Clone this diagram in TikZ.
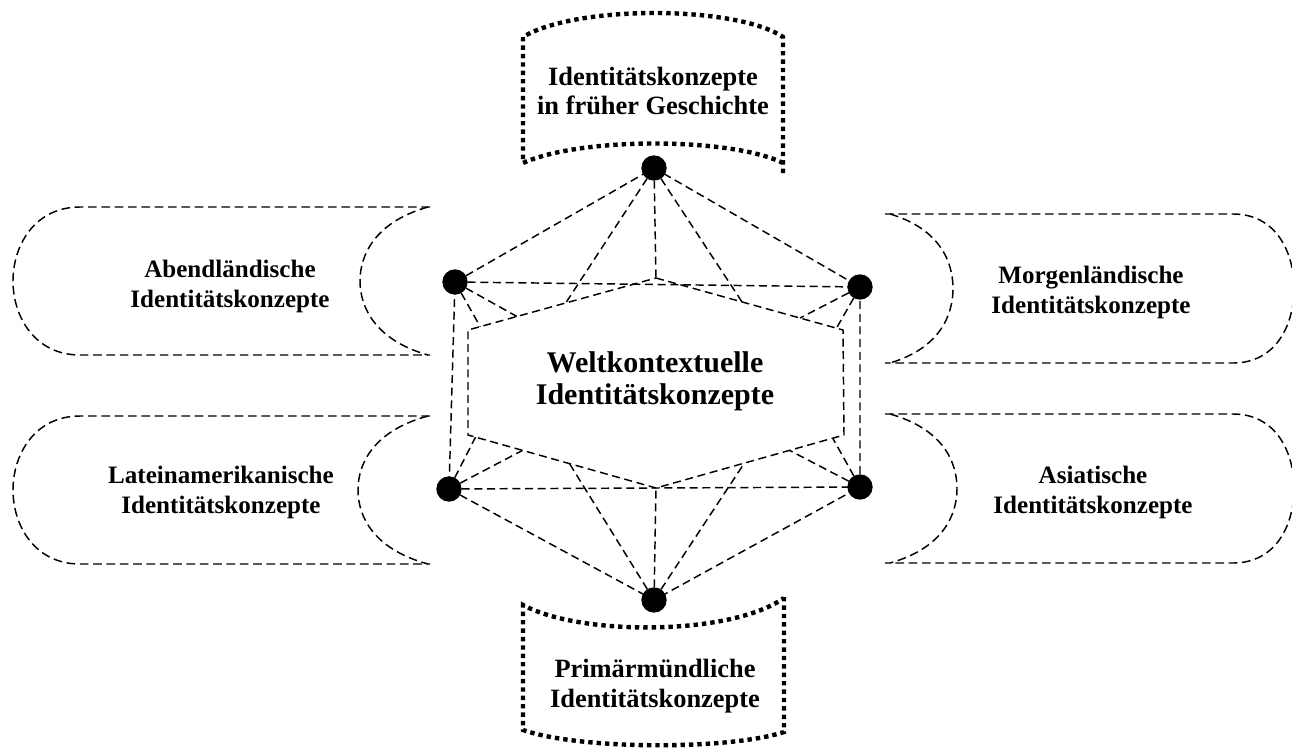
\documentclass[tikz,border=0pt]{standalone}
\usepackage{fontspec}
\setmainfont{Liberation Serif}
\usetikzlibrary{calc}
\begin{document}
\begin{tikzpicture}[x=0.75pt,y=-0.75pt,
  link/.style={line width=1.1pt, dash pattern=on 6pt off 3.5pt},
  rim/.style={line width=1.1pt, dash pattern=on 6.5pt off 3.5pt},
  banner/.style={line width=3.3pt, dash pattern=on 3.3pt off 3pt},
  vertex/.style={circle, fill=black, inner sep=0pt, minimum size=19pt},
  ctext/.style={align=center, inner sep=0pt,
    font=\bfseries\fontsize{18.8}{22.5}\selectfont},
  btext/.style={align=center, inner sep=0pt,
    font=\bfseries\fontsize{19.8}{22}\selectfont},
  mtext/.style={align=center, inner sep=0pt,
    font=\bfseries\fontsize{22.5}{24}\selectfont}]
\useasboundingbox (0,0) rectangle (1292,753);

% top and bottom banners
\draw[banner] (783,173) -- (783,37) .. controls (735,5) and (575,5) .. (523,37)
  -- (523,163) .. controls (580,137) and (730,137) .. (783,163);
\draw[banner] (784,597) -- (784,732) .. controls (730,750) and (580,750) .. (523,730)
  -- (523,605) .. controls (580,636) and (730,636) .. (784,598);

% side tabs, left
\draw[rim] (430,207) -- (80,207) .. controls (35,207) and (13,245) .. (13,281)
  .. controls (13,317) and (35,355) .. (80,355) -- (430,355);
\draw[rim] (428,207) .. controls (375,222) and (360,255) .. (360,281)
  .. controls (360,307) and (375,340) .. (428,355);
\draw[rim] (430,416) -- (80,416) .. controls (35,416) and (13,454) .. (13,490)
  .. controls (13,526) and (35,564) .. (80,564) -- (430,564);
\draw[rim] (428,416) .. controls (373,431) and (358,464) .. (358,490)
  .. controls (358,516) and (373,549) .. (428,564);

% side tabs, right
\draw[rim] (885,214) -- (1233,214) .. controls (1276,214) and (1294,252) .. (1294,288.5)
  .. controls (1294,325) and (1276,363) .. (1233,363) -- (885,363);
\draw[rim] (890,214) .. controls (940,229) and (953,262) .. (953,288.5)
  .. controls (953,315) and (940,348) .. (890,363);
\draw[rim] (885,414) -- (1233,414) .. controls (1276,414) and (1294,452) .. (1294,488.5)
  .. controls (1294,525) and (1276,563) .. (1233,563) -- (885,563);
\draw[rim] (890,414) .. controls (943,429) and (957,462) .. (957,488.5)
  .. controls (957,515) and (943,548) .. (890,563);

% labels
\node[btext] (early) at (653,91) {Identitätskonzepte\\in früher Geschichte};
\node[btext] (oral) at (655,686) {Primärmündliche\\Identitätskonzepte};
\node[ctext] (west) at (230,286) {Abendländische\\Identitätskonzepte};
\node[ctext] (latam) at (221,492) {Lateinamerikanische\\Identitätskonzepte};
\node[ctext] (east) at (1091,292) {Morgenländische\\Identitätskonzepte};
\node[ctext] (asia) at (1093,492) {Asiatische\\Identitätskonzepte};
\node[mtext] (world) at (655,381) {Weltkontextuelle\\Identitätskonzepte};

% outer vertices
\coordinate (pT) at (654,168);
\coordinate (pUL) at (455,282);
\coordinate (pUR) at (860,287);
\coordinate (pLL) at (449,489);
\coordinate (pLR) at (860,487);
\coordinate (pB) at (654,600);

% inner hexagon
\coordinate (hT) at (656,278);
\coordinate (hUR) at (843,330);
\coordinate (hLR) at (844,435);
\coordinate (hB) at (656,488);
\coordinate (hLL) at (468,435);
\coordinate (hUL) at (468,330);

\draw[link] (hT) -- (hUR) -- (hLR) -- (hB) -- (hLL) -- (hUL) -- cycle;

% outer frame
\draw[link] (pUL) -- (pT) -- (pUR) -- (pLR) -- (pB) -- (pLL) -- (pUL);
\draw[link] (pUL) -- (pUR);
\draw[link] (pLL) -- (pLR);

% spokes from each vertex onto the hexagon
\draw[link] (pT) -- (hT);
\draw[link] (pT) -- ($(hUL)!0.52!(hT)$);
\draw[link] (pT) -- ($(hT)!0.46!(hUR)$);
\draw[link] (pUL) -- ($(hUL)!0.26!(hT)$);
\draw[link] (pUL) -- ($(hUL)!0.065!(hT)$);
\draw[link] (pUR) -- ($(hT)!0.77!(hUR)$);
\draw[link] (pUR) -- ($(hT)!0.965!(hUR)$);
\draw[link] (pLL) -- ($(hLL)!0.04!(hB)$);
\draw[link] (pLL) -- ($(hLL)!0.29!(hB)$);
\draw[link] (pLR) -- ($(hLR)!0.06!(hB)$);
\draw[link] (pLR) -- ($(hLR)!0.29!(hB)$);
\draw[link] (pB) -- (hB);
\draw[link] (pB) -- ($(hLL)!0.54!(hB)$);
\draw[link] (pB) -- ($(hLR)!0.53!(hB)$);

% vertex dots
\node[vertex] (dT) at (pT) {};
\node[vertex] (dUL) at (pUL) {};
\node[vertex] (dUR) at (pUR) {};
\node[vertex] (dLL) at (pLL) {};
\node[vertex] (dLR) at (pLR) {};
\node[vertex] (dB) at (pB) {};
\end{tikzpicture}
\end{document}
